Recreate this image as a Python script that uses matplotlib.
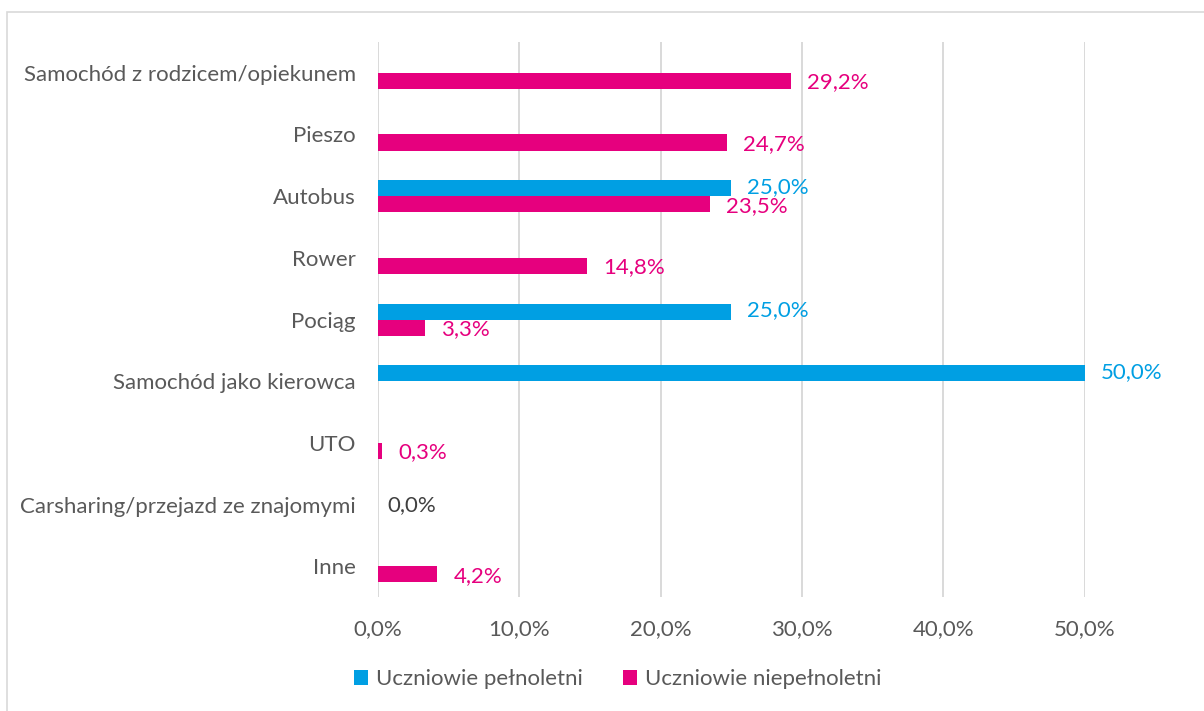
import matplotlib.pyplot as plt
from matplotlib.patches import Rectangle
from matplotlib.ticker import FuncFormatter

# data, in %
categories = [
    "Samochód z rodzicem/opiekunem",
    "Pieszo",
    "Autobus",
    "Rower",
    "Pociąg",
    "Samochód jako kierowca",
    "UTO",
    "Carsharing/przejazd ze znajomymi",
    "Inne",
]
adults = [0.0, 0.0, 25.0, 0.0, 25.0, 50.0, 0.0, 0.0, 0.0]
minors = [29.2, 24.7, 23.5, 14.8, 3.3, 0.0, 0.3, 0.0, 4.2]
series_names = ["Uczniowie pełnoletni", "Uczniowie niepełnoletni"]

BLUE = "#009FE3"
PINK = "#E6007E"
GREY = "#595959"
FS = 16

plt.rcParams["font.family"] = ["Lato", "DejaVu Sans"]


def pct(v):
    return f"{v:.1f}%".replace(".", ",")


fig = plt.figure(figsize=(12.04, 7.11), dpi=100)
ax = fig.add_axes([0.314, 0.160, 0.587, 0.781])

# outer frame like the office chart area
fig.patches.append(
    Rectangle((0.0058, -0.02), 1.2, 1.003, transform=fig.transFigure,
              fill=False, edgecolor="#D9D9D9", linewidth=1.2)
)

pos = list(range(len(categories)))
h = 0.26
y_adult = [p - h / 2 for p in pos]
y_minor = [p + h / 2 for p in pos]
ax.barh(y_adult, adults, height=h, color=BLUE, label=series_names[0], zorder=3)
ax.barh(y_minor, minors, height=h, color=PINK, label=series_names[1], zorder=3)

# value labels, zeros are skipped; nudged apart a little like the original
for y, v in zip(y_adult, adults):
    if v > 0:
        ax.annotate(pct(v), (v, y), xytext=(11.5, 1), textcoords="offset points",
                    va="center", ha="left", color=BLUE, fontsize=FS, annotation_clip=False)
for y, v in zip(y_minor, minors):
    if v > 0:
        ax.annotate(pct(v), (v, y), xytext=(11.5, -1), textcoords="offset points",
                    va="center", ha="left", color=PINK, fontsize=FS, annotation_clip=False)
for p, a, m in zip(pos, adults, minors):
    if a == 0 and m == 0:
        ax.annotate(pct(0), (0, p), xytext=(7, 0), textcoords="offset points",
                    va="center", ha="left", color="#404040", fontsize=FS)

ax.set_xlim(0, 50)
ax.set_ylim(len(categories) - 0.5, -0.5)
ax.set_xticks(range(0, 51, 10))
ax.xaxis.set_major_formatter(FuncFormatter(lambda v, _: pct(v)))
ax.set_yticks(pos)
ax.set_yticklabels(categories)
ax.tick_params(axis="both", length=0, labelsize=FS, labelcolor=GREY)
ax.tick_params(axis="x", pad=16)
ax.tick_params(axis="y", pad=16)
ax.grid(axis="x", color="#D9D9D9", linewidth=1.4, zorder=0)
for s in ax.spines.values():
    s.set_visible(False)

fig.legend(loc="center", bbox_to_anchor=(0.513, 0.045), ncol=2, frameon=False,
           fontsize=FS, labelcolor=GREY, handlelength=0.65, handleheight=0.65,
           handletextpad=0.35, columnspacing=1.8)

fig.savefig("out.png", dpi=100)
